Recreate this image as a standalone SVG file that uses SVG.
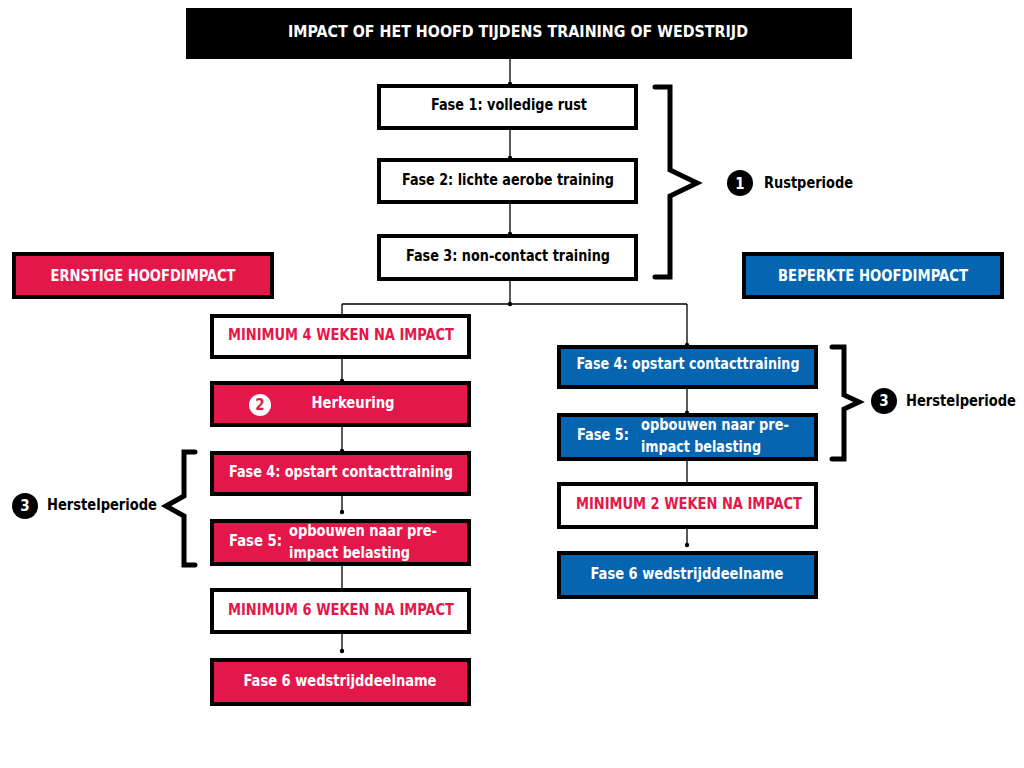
<svg xmlns="http://www.w3.org/2000/svg" width="1024" height="768" viewBox="0 0 1024 768">
<style>
text{font-family:"DejaVu Sans Condensed","DejaVu Sans","Liberation Sans",sans-serif;font-weight:bold;font-size:15px}
.c{text-anchor:middle}
.w{fill:#fff}
.k{fill:#000}
.r{fill:#E3174A}
.bw{fill:#fff;stroke:#000;stroke-width:4}
.br{fill:#E3174A;stroke:#000;stroke-width:4}
.bb{fill:#0565B0;stroke:#000;stroke-width:4}
.ln{stroke:#000;stroke-width:1.3;fill:none}
.brace{stroke:#000;stroke-width:5;fill:none;stroke-linejoin:miter;stroke-linecap:round}
</style>
<rect width="1024" height="768" fill="#fff"/>
<g id="connectors">
<path class="ln" d="M510,59V84M510,130V158M510,204V234M510,281V304M342,304H687M342,304V314M687,304V345M342,359V381M342,427V451M342,496V512M342,566V588M342,634V651M687,389V413M687,461V482M687,529V545"/>
<g fill="#000">
<circle cx="510" cy="84" r="2.2"/><circle cx="510" cy="158" r="2.2"/><circle cx="510" cy="234" r="2.2"/><circle cx="510" cy="304" r="2.2"/>
<circle cx="687" cy="345" r="2.2"/><circle cx="342" cy="381" r="2.2"/><circle cx="342" cy="451" r="2.2"/><circle cx="342" cy="512" r="2.2"/><circle cx="342" cy="651" r="2.2"/>
<circle cx="687" cy="413" r="2.2"/><circle cx="687" cy="545" r="2.2"/>
</g>
</g>
<g id="title"><rect x="186" y="8" width="666" height="51" fill="#000"/><text class="c w" x="518" y="37" font-size="16" textLength="460" lengthAdjust="spacingAndGlyphs">IMPACT OF HET HOOFD TIJDENS TRAINING OF WEDSTRIJD</text></g>
<g id="fase1"><rect class="bw" x="379" y="86" width="257" height="42"/><text class="c k" x="509" y="110" textLength="156" lengthAdjust="spacingAndGlyphs">Fase 1: volledige rust</text></g>
<g id="fase2"><rect class="bw" x="379" y="160" width="257" height="42"/><text class="c k" x="508" y="185" textLength="212" lengthAdjust="spacingAndGlyphs">Fase 2: lichte aerobe training</text></g>
<g id="fase3"><rect class="bw" x="379" y="236" width="257" height="43"/><text class="c k" x="508" y="261" textLength="204" lengthAdjust="spacingAndGlyphs">Fase 3: non-contact training</text></g>
<g id="rustperiode"><path class="brace" d="M655,87H670V170L697,183L670,196V277H655" stroke-width="6"/><circle cx="740" cy="183" r="13" fill="#000"/><text class="c w" x="740" y="189" font-size="16">1</text><text class="k" x="764" y="188" textLength="89" lengthAdjust="spacingAndGlyphs">Rustperiode</text></g>
<g id="ernstig"><rect class="br" x="14" y="254" width="258" height="43"/><text class="c w" x="143" y="281" textLength="185" lengthAdjust="spacingAndGlyphs">ERNSTIGE HOOFDIMPACT</text></g>
<g id="beperkt"><rect class="bb" x="744" y="254" width="258" height="43"/><text class="c w" x="873" y="281" textLength="190" lengthAdjust="spacingAndGlyphs">BEPERKTE HOOFDIMPACT</text></g>
<g id="min4"><rect class="bw" x="212" y="316" width="257" height="41"/><text class="c r" x="341" y="340" textLength="226" lengthAdjust="spacingAndGlyphs">MINIMUM 4 WEKEN NA IMPACT</text></g>
<g id="herkeuring"><rect class="br" x="212" y="383" width="257" height="42"/><circle cx="260" cy="405" r="11" fill="#fff"/><text class="c r" x="260" y="410" font-size="13">2</text><text class="c w" x="353" y="408" textLength="83" lengthAdjust="spacingAndGlyphs">Herkeuring</text></g>
<g id="l-fase4"><rect class="br" x="212" y="453" width="257" height="41"/><text class="c w" x="341" y="477" textLength="224" lengthAdjust="spacingAndGlyphs">Fase 4: opstart contacttraining</text></g>
<g id="l-fase5"><rect class="br" x="212" y="521" width="257" height="43"/><text class="w" x="229" y="546" textLength="53" lengthAdjust="spacingAndGlyphs">Fase 5:</text><text class="w" x="289" y="536" textLength="148" lengthAdjust="spacingAndGlyphs">opbouwen naar pre-</text><text class="w" x="289" y="558" textLength="121" lengthAdjust="spacingAndGlyphs">impact belasting</text></g>
<g id="l-herstel"><path class="brace" d="M195,452H184V496L166,506L184,516V565H195"/><circle cx="25" cy="506" r="13" fill="#000"/><text class="c w" x="25" y="511" font-size="14">3</text><text class="k" x="47" y="510" textLength="110" lengthAdjust="spacingAndGlyphs">Herstelperiode</text></g>
<g id="min6"><rect class="bw" x="212" y="590" width="257" height="42"/><text class="c r" x="341" y="615" textLength="226" lengthAdjust="spacingAndGlyphs">MINIMUM 6 WEKEN NA IMPACT</text></g>
<g id="l-fase6"><rect class="br" x="212" y="660" width="257" height="44"/><text class="c w" x="340" y="686" textLength="193" lengthAdjust="spacingAndGlyphs">Fase 6 wedstrijddeelname</text></g>
<g id="r-fase4"><rect class="bb" x="559" y="347" width="257" height="40"/><text class="c w" x="688" y="369" textLength="223" lengthAdjust="spacingAndGlyphs">Fase 4: opstart contacttraining</text></g>
<g id="r-fase5"><rect class="bb" x="559" y="415" width="257" height="44"/><text class="w" x="577" y="440" textLength="52" lengthAdjust="spacingAndGlyphs">Fase 5:</text><text class="w" x="641" y="430" textLength="148" lengthAdjust="spacingAndGlyphs">opbouwen naar pre-</text><text class="w" x="641" y="452" textLength="120" lengthAdjust="spacingAndGlyphs">impact belasting</text></g>
<g id="r-herstel"><path class="brace" d="M832,347H844V395L859,402L844,409V459H832"/><circle cx="884" cy="401" r="13" fill="#000"/><text class="c w" x="884" y="406" font-size="14">3</text><text class="k" x="906" y="406" textLength="110" lengthAdjust="spacingAndGlyphs">Herstelperiode</text></g>
<g id="min2"><rect class="bw" x="559" y="484" width="257" height="43"/><text class="c r" x="689" y="509" textLength="226" lengthAdjust="spacingAndGlyphs">MINIMUM 2 WEKEN NA IMPACT</text></g>
<g id="r-fase6"><rect class="bb" x="559" y="553" width="257" height="44"/><text class="c w" x="687" y="579" textLength="193" lengthAdjust="spacingAndGlyphs">Fase 6 wedstrijddeelname</text></g>
</svg>
